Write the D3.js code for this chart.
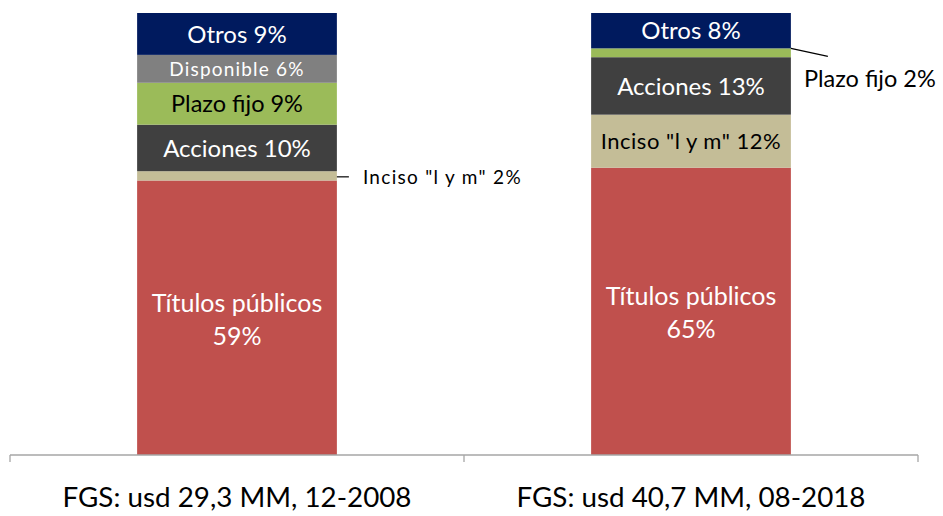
<!DOCTYPE html>
<html><head><meta charset="utf-8">
<script src="https://cdn.jsdelivr.net/npm/d3@7"></script>
<style>html,body{margin:0;padding:0;background:#fff;} text{font-family:Lato,"Open Sans",sans-serif;}</style>
</head><body>
<svg id="c" width="943" height="516"></svg>
<script>
const categories = ["FGS: usd 29,3 MM, 12-2008", "FGS: usd 40,7 MM, 08-2018"];
const series = ["Títulos públicos", "Inciso \"l y m\"", "Acciones", "Plazo fijo", "Disponible", "Otros"];
const values2008 = [59, 2, 10, 9, 6, 9];
const values2018 = [65, 12, 13, 2, 0, 8];
const colors = ["#C0504D", "#C4BD97", "#404040", "#9BBB59", "#808080", "#001A5E"];
const textColors = ["#fff", "#000", "#fff", "#000", "#fff", "#fff"];

const svg = d3.select("#c");
const rows = categories.map((c, i) => {
  const vals = i === 0 ? values2008 : values2018;
  const o = {cat: c};
  series.forEach((s, j) => o[s] = vals[j]);
  return o;
});
const stack = d3.stack().keys(series).offset(d3.stackOffsetExpand);
const layers = stack(rows);

const x = d3.scaleBand().domain(categories).range([10, 918]).paddingInner(0).paddingOuter(0);
const y = d3.scaleLinear().domain([0, 1]).range([455, 13]);
const barW = x.bandwidth() * 0.44;
const bx = c => x(c) + (x.bandwidth() - barW) / 2;

// bars
layers.forEach((layer, li) => {
  svg.append("g").selectAll("rect").data(layer.filter(d => d[1] - d[0] > 0)).join("rect")
    .attr("x", d => bx(d.data.cat))
    .attr("width", barW)
    .attr("y", d => y(d[1]))
    .attr("height", d => y(d[0]) - y(d[1]))
    .attr("fill", colors[li]);
});

// axis
const ax = svg.append("g").attr("transform", "translate(0,455)");
ax.append("line").attr("x1", 10).attr("x2", 918).attr("stroke", "#A6A6A6").attr("stroke-width", 1.3);
const ticks = [...categories.map(c => x(c)), x(categories[categories.length - 1]) + x.bandwidth()];
ax.selectAll(".tk").data(ticks).join("line").attr("class", "tk")
  .attr("x1", d => d).attr("x2", d => d).attr("y1", 0).attr("y2", 7)
  .attr("stroke", "#A6A6A6").attr("stroke-width", 1.3);
svg.append("g").selectAll("text").data(categories).join("text")
  .attr("x", d => x(d) + x.bandwidth() / 2)
  .attr("y", 507)
  .attr("text-anchor", "middle")
  .attr("font-size", 26)
  .attr("textLength", 349).attr("lengthAdjust", "spacingAndGlyphs")
  .attr("fill", "#000")
  .text(d => d);

// labels
const fontSizes = {"Otros": 24, "Disponible": 19, "Plazo fijo": 23.5, "Acciones": 24, "Inciso \"l y m\"": 22, "Títulos públicos": 25};
const spacing = {"Disponible": 1.2, "Inciso \"l y m\"": 0.5};
layers.forEach((layer, li) => {
  const key = layer.key;
  layer.forEach((d, ci) => {
    const v = d.data[key];
    if (!v) return;
    const cx = bx(d.data.cat) + barW / 2;
    const y0 = y(d[1]), y1 = y(d[0]);
    const mid = (y0 + y1) / 2;
    const label = key + " " + v + "%";
    if (y1 - y0 < 15) {
      // callout
      const g = svg.append("g");
      const right = bx(d.data.cat) + barW;
      if (ci === 0) {
        g.append("line").attr("x1", right).attr("x2", right + 12).attr("y1", mid + 1).attr("y2", mid + 1).attr("stroke", "#000").attr("stroke-width", 1.2);
        g.append("text").attr("x", right + 26).attr("y", mid + 8).attr("font-size", 19).attr("letter-spacing", 1.3).attr("fill", "#000").text(label);
      } else {
        g.append("line").attr("x1", right).attr("x2", right + 37).attr("y1", y0).attr("y2", y0 + 8).attr("stroke", "#000").attr("stroke-width", 1.2);
        g.append("text").attr("x", right + 13).attr("y", y0 + 39).attr("font-size", 23.5).attr("fill", "#000").text(label);
      }
      return;
    }
    if (key === "Títulos públicos") {
      const t = svg.append("text").attr("x", cx).attr("text-anchor", "middle").attr("font-size", fontSizes[key]).attr("fill", textColors[li]);
      t.append("tspan").attr("x", cx).attr("y", mid - 6).text(key);
      t.append("tspan").attr("x", cx).attr("y", mid + 27).text(v + "%");
      return;
    }
    svg.append("text").attr("x", cx).attr("y", mid + fontSizes[key] * 0.36)
      .attr("text-anchor", "middle").attr("font-size", fontSizes[key])
      .attr("letter-spacing", spacing[key] || 0)
      .attr("fill", textColors[li]).text(label);
  });
});
</script>
</body></html>
